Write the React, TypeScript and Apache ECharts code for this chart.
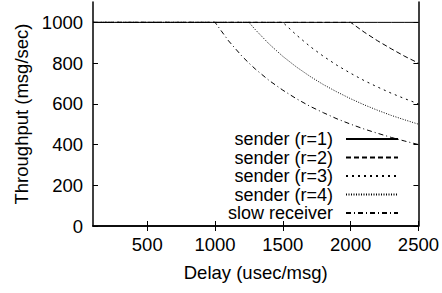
import React, { useEffect, useRef } from "react";
import * as echarts from "echarts";

const delays = [100, 200, 300, 400, 500, 600, 700, 800, 900, 1000, 1100, 1200, 1250, 1300, 1400, 1500, 1600, 1700, 1800, 1900, 2000, 2100, 2200, 2300, 2400, 2500];
const senderR1 = [1000, 1000, 1000, 1000, 1000, 1000, 1000, 1000, 1000, 1000, 1000, 1000, 1000, 1000, 1000, 1000, 1000, 1000, 1000, 1000, 1000, 1000, 1000, 1000, 1000, 1000];
const senderR2 = [1000, 1000, 1000, 1000, 1000, 1000, 1000, 1000, 1000, 1000, 1000, 1000, 1000, 1000, 1000, 1000, 1000, 1000, 1000, 1000, 1000, 952, 909, 870, 833, 800];
const senderR3 = [1000, 1000, 1000, 1000, 1000, 1000, 1000, 1000, 1000, 1000, 1000, 1000, 1000, 1000, 1000, 1000, 938, 882, 833, 789, 750, 714, 682, 652, 625, 600];
const senderR4 = [1000, 1000, 1000, 1000, 1000, 1000, 1000, 1000, 1000, 1000, 1000, 1000, 1000, 962, 893, 833, 781, 735, 694, 658, 625, 595, 568, 543, 521, 500];
const slowReceiver = [1000, 1000, 1000, 1000, 1000, 1000, 1000, 1000, 1000, 1000, 909, 833, 800, 769, 714, 667, 625, 588, 556, 526, 500, 476, 455, 435, 417, 400];

const seriesNames = ["sender (r=1)", "sender (r=2)", "sender (r=3)", "sender (r=4)", "slow receiver"];
const xTicks = [500, 1000, 1500, 2000, 2500];
const yTicks = [0, 200, 400, 600, 800, 1000];

const FONT = "'Liberation Sans', Arial, Helvetica, sans-serif";
const FS = 18.5;

export default function App() {
  const ref = useRef<HTMLDivElement>(null);
  useEffect(() => {
    if (!ref.current) return;
    const chart = echarts.init(ref.current, null, { renderer: "svg" });
    const allValues = [senderR1, senderR2, senderR3, senderR4, slowReceiver];
    const dashes: any[] = ["solid", [5, 3], [2, 4], [1, 1.5], [5, 3, 1, 3]];
    const axisLine = { show: true, lineStyle: { color: "#000", width: 1.5 } };
    const tickStyle = { color: "#000", width: 1 };
    const fmt = (v: number) => String(v);
    chart.setOption({
      animation: false,
      backgroundColor: "#fff",
      textStyle: { fontFamily: FONT },
      grid: { left: 93, right: 21, top: 2, bottom: 67, containLabel: false },
      legend: {
        orient: "vertical",
        right: 38,
        top: 125,
        align: "right",
        itemWidth: 52,
        itemHeight: 12,
        itemGap: 0.5,
        itemStyle: { color: "transparent", borderColor: "transparent", borderWidth: 0, opacity: 0 },
        textStyle: { fontFamily: FONT, fontSize: 18, lineHeight: 18, color: "#000", padding: [0, 8, 0, 0] },
        data: seriesNames,
      },
      xAxis: [
        {
          type: "value",
          min: 100,
          max: 2500,
          position: "bottom",
          name: "Delay (usec/msg)",
          nameLocation: "middle",
          nameGap: 37,
          nameTextStyle: { fontFamily: FONT, fontSize: FS, color: "#000" },
          axisLine,
          splitLine: { show: false },
          axisTick: { show: true, inside: true, length: 5, lineStyle: tickStyle, customValues: xTicks },
          axisLabel: { show: true, fontFamily: FONT, fontSize: FS, color: "#000", margin: 9, formatter: fmt, customValues: xTicks },
        },
        {
          type: "value",
          min: 100,
          max: 2500,
          position: "top",
          axisLine,
          splitLine: { show: false },
          axisTick: { show: true, inside: true, length: 5, lineStyle: tickStyle, customValues: xTicks },
          axisLabel: { show: false },
        },
      ],
      yAxis: [
        {
          type: "value",
          min: 0,
          max: 1100,
          position: "left",
          name: "Throughput (msg/sec)",
          nameLocation: "middle",
          nameGap: 60,
          nameTextStyle: { fontFamily: FONT, fontSize: FS, color: "#000" },
          axisLine,
          splitLine: { show: false },
          axisTick: { show: true, inside: true, length: 5, lineStyle: tickStyle, customValues: yTicks },
          axisLabel: { show: true, fontFamily: FONT, fontSize: FS, color: "#000", margin: 10, formatter: fmt, customValues: yTicks },
        },
        {
          type: "value",
          min: 0,
          max: 1100,
          position: "right",
          axisLine,
          splitLine: { show: false },
          axisTick: { show: true, inside: true, length: 5, lineStyle: tickStyle, customValues: yTicks },
          axisLabel: { show: false },
        },
      ],
      series: seriesNames.map((name, i) => ({
        name,
        type: "line",
        xAxisIndex: 0,
        yAxisIndex: 0,
        symbol: "none",
        showSymbol: false,
        smooth: false,
        color: "#000",
        lineStyle: { color: "#000", width: 1, type: dashes[i] },
        data: delays.map((d, k) => [d, allValues[i][k]]),
      })),
    });
    return () => chart.dispose();
  }, []);
  return <div ref={ref} style={{ position: "fixed", left: 0, top: 0, width: 442, height: 293 }} />;
}
